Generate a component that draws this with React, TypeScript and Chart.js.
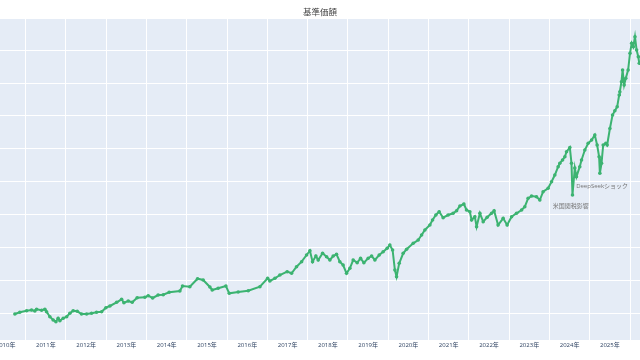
import React, { useEffect, useRef } from "react";
import { Chart, registerables } from "chart.js";

Chart.register(...registerables);

const TITLE = "基準価額";
const X_MIN = 2010.362;
const X_MAX = 2026.248;
const Y_MIN = 1880;
const Y_MAX = 99470;
const YEAR_TICKS = [2010, 2011, 2012, 2013, 2014, 2015, 2016, 2017, 2018, 2019, 2020, 2021, 2022, 2023, 2024, 2025, 2026];
const Y_TICKS = [10000, 20000, 30000, 40000, 50000, 60000, 70000, 80000, 90000];

const DATES = [
  "2010-09-25", "2010-11-09", "2011-01-09", "2011-02-23", "2011-03-25", "2011-04-10", "2011-05-25", "2011-06-24",
  "2011-07-09", "2011-08-08", "2011-09-07", "2011-10-02", "2011-10-22", "2011-11-07", "2011-12-07", "2012-01-07",
  "2012-02-05", "2012-03-06", "2012-04-12", "2012-05-21", "2012-07-06", "2012-08-20", "2012-10-04", "2012-11-19",
  "2012-12-28", "2013-02-03", "2013-04-05", "2013-05-20", "2013-06-10", "2013-07-19", "2013-08-24", "2013-10-08",
  "2013-12-17", "2014-01-16", "2014-02-25", "2014-04-16", "2014-06-01", "2014-07-25", "2014-10-30", "2014-11-23",
  "2015-01-28", "2015-04-08", "2015-05-29", "2015-07-29", "2015-08-19", "2015-10-12", "2015-12-21", "2016-01-20",
  "2016-04-10", "2016-07-10", "2016-10-24", "2017-01-03", "2017-01-23", "2017-03-10", "2017-04-24", "2017-06-29",
  "2017-08-08", "2017-09-22", "2017-11-07", "2017-12-22", "2018-01-21", "2018-02-14", "2018-03-16", "2018-04-06",
  "2018-05-16", "2018-06-21", "2018-07-21", "2018-08-20", "2018-09-19", "2018-10-19", "2018-11-18", "2018-12-19",
  "2019-01-18", "2019-02-17", "2019-03-25", "2019-04-25", "2019-05-25", "2019-07-03", "2019-08-03", "2019-09-02",
  "2019-10-11", "2019-11-16", "2019-12-22", "2020-01-15", "2020-02-09", "2020-03-01", "2020-03-16", "2020-04-09",
  "2020-05-15", "2020-06-15", "2020-08-14", "2020-09-28", "2020-10-29", "2020-11-28", "2021-01-13", "2021-02-06",
  "2021-03-08", "2021-04-07", "2021-05-13", "2021-06-27", "2021-08-12", "2021-09-12", "2021-10-12", "2021-11-17",
  "2021-12-11", "2022-01-10", "2022-01-26", "2022-02-24", "2022-03-12", "2022-04-11", "2022-05-11", "2022-06-16",
  "2022-07-26", "2022-08-18", "2022-09-23", "2022-11-08", "2022-12-14", "2023-01-23", "2023-03-09", "2023-04-24",
  "2023-05-23", "2023-06-22", "2023-07-23", "2023-09-06", "2023-10-06", "2023-11-05", "2023-12-20", "2024-01-20",
  "2024-02-19", "2024-03-20", "2024-04-04", "2024-04-29", "2024-05-20", "2024-06-04", "2024-07-04", "2024-07-19",
  "2024-07-28", "2024-08-18", "2024-09-02", "2024-10-02", "2024-10-18", "2024-11-17", "2024-12-17", "2025-01-18",
  "2025-02-16", "2025-03-09", "2025-03-27", "2025-04-03", "2025-04-18", "2025-05-03", "2025-05-27", "2025-06-08",
  "2025-07-03", "2025-07-27", "2025-08-17", "2025-09-07", "2025-09-25", "2025-10-01", "2025-10-16", "2025-10-26",
  "2025-11-09", "2025-11-24", "2025-12-15", "2026-01-01", "2026-01-16", "2026-01-31", "2026-02-15", "2026-03-02",
  "2026-03-17", "2026-03-26",
];

const NAV = [
  9790, 10300, 10790, 11000, 10700, 11220, 10910, 11220,
  10490, 8970, 7960, 7450, 8480, 7750, 8480, 8970,
  10000, 10790, 10610, 9790, 9790, 10000, 10300, 10490,
  11700, 12220, 13340, 14260, 13220, 13740, 13340, 14740,
  14860, 15350, 14650, 15560, 15650, 16380, 16780, 18300,
  18090, 20520, 20120, 18000, 17080, 17600, 18300, 16080,
  16480, 16870, 18090, 20640, 19820, 20640, 21640, 22650,
  22160, 24170, 25690, 27720, 29030, 25690, 27420, 26200,
  28240, 27210, 26200, 27420, 27940, 25690, 24680, 22160,
  23680, 26200, 25380, 26720, 25380, 26720, 27420, 26200,
  27720, 28730, 29760, 30760, 29240, 23160, 21130, 25200,
  28240, 29460, 31280, 32280, 33800, 35320, 36840, 38360,
  39880, 40890, 39060, 39880, 40400, 41190, 42620, 43230,
  41400, 40890, 38360, 39370, 36330, 40400, 37850, 39180,
  40400, 41190, 36840, 38880, 36840, 39370, 40400, 41400,
  42410, 44960, 45660, 45450, 44440, 46970, 48000, 50010,
  52040, 54570, 55600, 56600, 57610, 59130, 60400, 55600,
  45960, 54170, 51530, 54570, 56600, 59640, 61680, 62680,
  64200, 61160, 57610, 52560, 55600, 61160, 61680, 61160,
  66180, 70280, 71590, 72810, 76360, 77370, 80410, 83960,
  79400, 81440, 83960, 89040, 92080, 91050, 94090, 90040,
  88010, 86000,
];

const NOTE_TEXTS = ["DeepSeekショック", "米国関税影響"];
const NOTE_DATES = ["2024-08-30", "2024-02-01"];
const NOTE_VALUES = [48700, 42620];

function toYear(s: string): number {
  const [y, m, d] = s.split("-").map(Number);
  const start = Date.UTC(y, 0, 1);
  const t = Date.UTC(y, m - 1, d);
  return y + (t - start) / (365.25 * 86400000);
}

const FONT = "'Open Sans', 'Noto Sans CJK JP', sans-serif";

const decorPlugin = {
  id: "decor",
  beforeDraw(chart: any) {
    const { ctx, chartArea } = chart;
    ctx.save();
    ctx.fillStyle = "#ffffff";
    ctx.fillRect(0, 0, chart.width, chart.height);
    ctx.fillStyle = "#E5ECF6";
    ctx.fillRect(chartArea.left, chartArea.top, chartArea.right - chartArea.left, chartArea.bottom - chartArea.top);
    ctx.restore();
  },
  afterDraw(chart: any) {
    const { ctx, chartArea } = chart;
    const xs = chart.scales.x;
    const ys = chart.scales.y;
    ctx.save();
    ctx.fillStyle = "#444444";
    ctx.font = `8.5px ${FONT}`;
    ctx.textAlign = "center";
    ctx.textBaseline = "middle";
    ctx.fillText(TITLE, chart.width / 2, 13);
    ctx.fillStyle = "#2a3f5f";
    ctx.font = `6px ${FONT}`;
    for (let i = 0; i < YEAR_TICKS.length - 1; i++) {
      const y0 = YEAR_TICKS[i];
      const px = xs.getPixelForValue(y0 + 0.5);
      ctx.fillText(`${y0}年`, px, chartArea.bottom + 5);
    }
    ctx.fillStyle = "#777777";
    ctx.font = `6px ${FONT}`;
    ctx.textAlign = "left";
    for (let i = 0; i < NOTE_TEXTS.length; i++) {
      ctx.fillText(NOTE_TEXTS[i], xs.getPixelForValue(toYear(NOTE_DATES[i])), ys.getPixelForValue(NOTE_VALUES[i]));
    }
    ctx.restore();
  },
};

export default function App() {
  const ref = useRef<HTMLCanvasElement | null>(null);
  useEffect(() => {
    if (!ref.current) return;
    const points = DATES.map((d, i) => ({ x: toYear(d), y: NAV[i] }));
    const chart = new Chart(ref.current, {
      type: "line",
      data: {
        datasets: [
          {
            label: TITLE,
            data: points,
            borderColor: "#3cb371",
            backgroundColor: "#3cb371",
            borderWidth: 2,
            pointRadius: 1.8,
            pointBorderWidth: 0,
            pointBackgroundColor: "#3cb371",
            tension: 0,
          },
        ],
      },
      options: {
        animation: false,
        responsive: false,
        maintainAspectRatio: false,
        layout: { autoPadding: false, padding: { top: 19, bottom: 20, left: 0, right: 0 } },
        plugins: { legend: { display: false }, tooltip: { enabled: false }, title: { display: false } },
        scales: {
          x: {
            type: "linear",
            min: X_MIN,
            max: X_MAX,
            afterBuildTicks: (scale: any) => {
              scale.ticks = YEAR_TICKS.map((v) => ({ value: v }));
            },
            ticks: { display: false },
            grid: { color: "#ffffff", lineWidth: 1, drawTicks: false },
            border: { display: false },
          },
          y: {
            type: "linear",
            min: Y_MIN,
            max: Y_MAX,
            afterBuildTicks: (scale: any) => {
              scale.ticks = Y_TICKS.map((v) => ({ value: v }));
            },
            ticks: { display: false },
            grid: { color: "#ffffff", lineWidth: 1, drawTicks: false },
            border: { display: false },
          },
        },
      },
      plugins: [decorPlugin],
    });
    return () => chart.destroy();
  }, []);
  return (
    <div style={{ position: "fixed", left: 0, top: 0, width: 640, height: 360 }}>
      <canvas ref={ref} width={640} height={360} style={{ width: 640, height: 360 }} />
    </div>
  );
}
